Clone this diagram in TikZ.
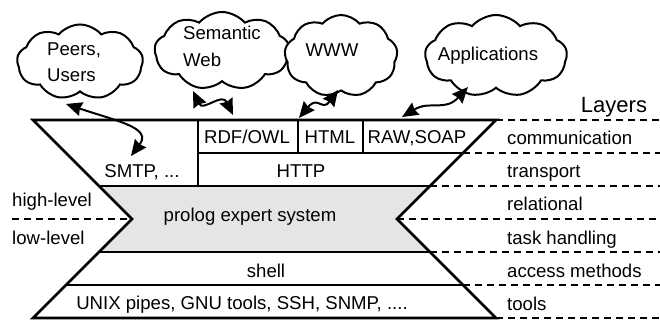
\documentclass[tikz,border=0pt]{standalone}
\usepackage{fontspec}
\setmainfont{Liberation Sans}
\usetikzlibrary{shapes.symbols,arrows.meta}
\tikzset{
  lbl/.style={font=\fontsize{18.6}{22}\selectfont, inner sep=0pt},
  bigl/.style={font=\fontsize{22}{26}\selectfont, inner sep=0pt},
  cloudbox/.style={cloud, draw, line width=2pt, fill=white, cloud puffs=9,
    cloud puff arc=100, cloud ignores aspect, inner sep=0pt},
  outline/.style={line width=2.6pt},
  layerdash/.style={line width=1.2pt, dash pattern=on 7pt off 5pt},
  leveldash/.style={line width=2.6pt, dash pattern=on 7pt off 5pt},
  dbl/.style={line width=2pt, {Stealth[length=16pt,width=14pt,inset=1.5pt]}-{Stealth[length=16pt,width=14pt,inset=1.5pt]}}
}
\begin{document}
\begin{tikzpicture}[x=1pt,y=-1pt]
\useasboundingbox (0,0) rectangle (660,320);

% dashed layer separators
\foreach \yy/\xx in {120/496,153/463,186/430,219/397,252/430,285/463,318/496}
  \draw[layerdash] (\xx,\yy) -- (660,\yy);
\draw[leveldash] (12,219) -- (132,219);

% gray relational region
\fill[black!10] (99,186) -- (430,186) -- (397,219) -- (430,252) -- (99,252) -- (132,219) -- cycle;

% outline
\draw[outline] (33,120) -- (496,120) -- (397,219) -- (496,318) -- (33,318) -- (132,219) -- cycle;
\draw[outline] (198,153) -- (463,153);
\draw[outline] (99,186) -- (430,186);
\draw[outline] (99,252) -- (430,252);
\draw[outline] (66,285) -- (463,285);
\draw[outline] (198,120) -- (198,186);
\draw[outline] (298,120) -- (298,153);
\draw[outline] (363,120) -- (363,153);

% layer contents
\node[lbl,anchor=base] (rdf) at (247,144) {RDF/OWL};
\node[lbl,anchor=base] (html) at (330,144) {HTML};
\node[lbl,anchor=base] (raw) at (417,144) {RAW,SOAP};
\node[lbl,anchor=base] (smtp) at (142,178) {SMTP, ...};
\node[lbl,anchor=base] (http) at (301,178) {HTTP};
\node[lbl,anchor=base] (prolog) at (250,222) {prolog expert system};
\node[lbl,anchor=base] (shell) at (266,277) {shell};
\node[lbl,anchor=base] (unix) at (242,309) {UNIX pipes, GNU tools, SSH, SNMP, ....};

% left labels
\node[lbl,anchor=base west] (high) at (12,207) {high-level};
\node[lbl,anchor=base west] (low) at (12,244) {low-level};

% right labels
\node[bigl,anchor=base] (layers) at (614,113) {Layers};
\node[lbl,anchor=base west] (l1) at (507,145) {communication};
\node[lbl,anchor=base west] (l2) at (507,178) {transport};
\node[lbl,anchor=base west] (l3) at (507,211) {relational};
\node[lbl,anchor=base west] (l4) at (507,244) {task handling};
\node[lbl,anchor=base west] (l5) at (507,277) {access methods};
\node[lbl,anchor=base west] (l6) at (507,310) {tools};

% clouds
\node[cloudbox, minimum width=126pt, minimum height=75pt] (peers) at (80,62) {};
\node[cloudbox, minimum width=135pt, minimum height=78pt] (sem) at (222,51) {};
\node[cloudbox, minimum width=113pt, minimum height=82pt] (www) at (341,56) {};
\node[cloudbox, minimum width=142pt, minimum height=82pt] (apps) at (496,56) {};

\node[lbl,anchor=base west] (peerst) at (47,56) {Peers,};
\node[lbl,anchor=base west] (userst) at (47,82) {Users};
\node[lbl,anchor=base west] (semt) at (183,40) {Semantic};
\node[lbl,anchor=base west] (webt) at (183,67) {Web};
\node[lbl,anchor=base] (wwwt) at (332,57) {WWW};
\node[lbl,anchor=base] (appst) at (488,61) {Applications};

% arrow end points
\coordinate (p1) at (66,104);
\coordinate (p2) at (131,156);
\coordinate (s1) at (193,91);
\coordinate (s2) at (233,115);
\coordinate (w1) at (299,118);
\coordinate (w2) at (338,90);
\coordinate (a1) at (402,117);
\coordinate (a2) at (468,87);

\draw[dbl] (p1) .. controls (120,122) and (152,128) .. (p2);
\draw[dbl] (s1) .. controls (203,112) and (222,92) .. (s2);
\draw[dbl] (w1) .. controls (318,95) and (322,112) .. (w2);
\draw[dbl] (a1) .. controls (430,100) and (445,112) .. (a2);
\end{tikzpicture}
\end{document}
